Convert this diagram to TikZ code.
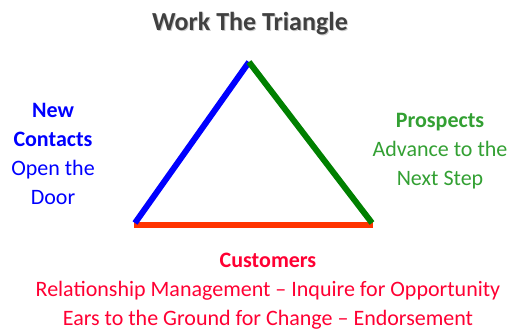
\documentclass[tikz,border=0pt]{standalone}
\usepackage{fontspec}
\setmainfont{Carlito}
\usetikzlibrary{positioning}
\definecolor{sideblue}{RGB}{0,0,255}
\definecolor{sidegreen}{RGB}{0,128,0}
\definecolor{basered}{RGB}{255,51,0}
\definecolor{textgreen}{RGB}{51,160,51}
\definecolor{textred}{RGB}{255,0,51}
\definecolor{titlegray}{RGB}{64,64,64}

\begin{document}
\begin{tikzpicture}[x=1pt,y=-1pt,
  side/.style={line width=6pt},
  txt/.style={align=center,inner sep=0pt,anchor=north,font=\fontsize{22}{29}\selectfont}]
  \useasboundingbox (0,0) rectangle (524,333);

  % corners of the triangle
  \coordinate (apex) at (249,62);
  \coordinate (bl) at (135,223);
  \coordinate (br) at (372,223);
  \coordinate (redl) at (134,225);
  \coordinate (redr) at (373,225);

  \draw[side,basered] (redl) -- (redr);
  \draw[side,sideblue] (bl) -- (apex);
  \draw[side,sidegreen] (apex) -- (br);

  % title with a soft shadow
  \node[inner sep=0pt,anchor=north,text=black!20,font=\fontsize{26}{30}\selectfont\bfseries] (shadow) at (251,13) {Work The Triangle};
  \node[inner sep=0pt,anchor=north,text=titlegray,font=\fontsize{26}{30}\selectfont\bfseries] (title) at (250,12) {Work The Triangle};

  \node[txt,text=sideblue] (contacts) at (53,103) {\textbf{New}\\\textbf{Contacts}\\Open the\\Door};
  \node[txt,text=textgreen] (prospects) at (440,113) {\textbf{Prospects}\\Advance to the\\Next Step};
  \node[txt,text=textred] (customers) at (268,253) {\textbf{Customers}\\Relationship Management -- Inquire for Opportunity\\Ears to the Ground for Change -- Endorsement};
\end{tikzpicture}
\end{document}
